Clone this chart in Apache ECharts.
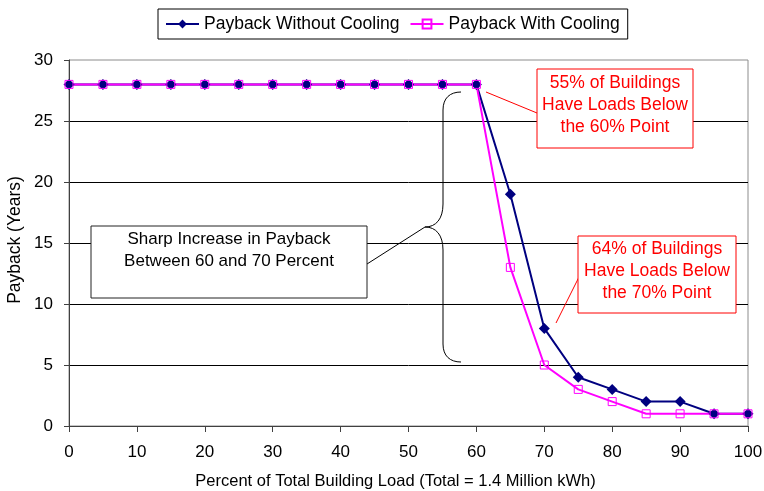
<!DOCTYPE html>
<html>
<head>
<meta charset="utf-8">
<script src="https://cdn.jsdelivr.net/npm/echarts@6/dist/echarts.min.js"></script>
<style>
  html, body { margin: 0; padding: 0; background: #fff; }
  #chart { width: 764px; height: 491px; }
</style>
</head>
<body>
<div id="chart"></div>
<script>
// percent of total building load
const loadPct = [0, 5, 10, 15, 20, 25, 30, 35, 40, 45, 50, 55, 60, 65, 70, 75, 80, 85, 90, 95, 100];
// payback in years
const paybackNoCooling = [28, 28, 28, 28, 28, 28, 28, 28, 28, 28, 28, 28, 28, 19, 8, 4, 3, 2, 2, 1, 1];
const paybackCooling = [28, 28, 28, 28, 28, 28, 28, 28, 28, 28, 28, 28, 28, 13, 5, 3, 2, 1, 1, 1, 1];

const seriesNames = ['Payback Without Cooling', 'Payback With Cooling'];
const noteTop = '55% of Buildings\nHave Loads Below\nthe 60% Point';
const noteMid = '64% of Buildings\nHave Loads Below\nthe 70% Point';
const noteLeft = 'Sharp Increase in Payback\nBetween 60 and 70 Percent';

const FONT = 'Liberation Sans, Arial, sans-serif';

const chart = echarts.init(document.getElementById('chart'));

const toPairs = (ys) => loadPct.map((x, i) => [x, ys[i]]);

// brace pieces (annotation drawing)
const braceStyle = { fill: null, stroke: '#000', lineWidth: 1 };
const curve = (x1, y1, cpx1, cpy1, cpx2, cpy2, x2, y2) => ({
  type: 'bezierCurve', z: 100,
  shape: { x1, y1, cpx1, cpy1, cpx2, cpy2, x2, y2 },
  style: braceStyle
});
const seg = (x1, y1, x2, y2, stroke) => ({
  type: 'line', z: 100,
  shape: { x1, y1, x2, y2 },
  style: { stroke: stroke || '#000', lineWidth: 1 }
});

const option = {
  backgroundColor: '#fff',
  animation: false,
  textStyle: { fontFamily: FONT },
  legend: {
    left: 158,
    top: 9,
    padding: [6, 8, 6, 7],
    borderColor: '#000',
    borderWidth: 1,
    itemWidth: 33,
    itemHeight: 11,
    itemGap: 10,
    textStyle: { color: '#000', fontSize: 17.5, fontFamily: FONT },
    data: seriesNames
  },
  grid: {
    left: 69,
    right: 16,
    top: 60,
    bottom: 65,
    outerBoundsMode: 'none',
    show: true,
    borderColor: '#8c8c8c',
    borderWidth: 1
  },
  xAxis: {
    type: 'value',
    min: 0,
    max: 100,
    interval: 10,
    name: 'Percent of Total Building Load (Total = 1.4 Million kWh)',
    nameLocation: 'middle',
    nameGap: 47,
    nameTextStyle: { color: '#000', fontSize: 16.5, padding: [0, 26, 0, 0] },
    axisLine: { lineStyle: { color: '#404040', width: 1 } },
    axisTick: { show: true, length: 6, lineStyle: { color: '#404040' } },
    axisLabel: { color: '#000', fontSize: 17, margin: 18 },
    splitLine: { show: false }
  },
  yAxis: {
    type: 'value',
    min: 0,
    max: 30,
    interval: 5,
    axisLine: { show: true, lineStyle: { color: '#404040', width: 1 } },
    axisTick: { show: true, length: 5, lineStyle: { color: '#404040' } },
    axisLabel: { color: '#000', fontSize: 17, margin: 16 },
    splitLine: { show: true, showMaxLine: false, lineStyle: { color: '#000', width: 1 } }
  },
  series: [
    {
      name: seriesNames[0],
      type: 'line',
      data: toPairs(paybackNoCooling),
      symbol: 'diamond',
      symbolSize: 11,
      lineStyle: { color: '#000080', width: 2 },
      itemStyle: { color: '#000080' }
    },
    {
      name: seriesNames[1],
      type: 'line',
      data: toPairs(paybackCooling),
      symbol: 'rect',
      symbolSize: 8,
      lineStyle: { color: '#ff00ff', width: 2 },
      itemStyle: { color: 'rgba(255,255,255,0)', borderColor: '#ff00ff', borderWidth: 1 }
    }
  ],
  graphic: [
    // y axis title
    {
      type: 'text',
      x: 15, y: 240,
      rotation: Math.PI / 2,
      z: 100,
      style: { text: 'Payback (Years)', fill: '#000', font: '17.5px ' + FONT, align: 'center', verticalAlign: 'middle' }
    },
    // callout: 60% point
    seg(486, 92, 537, 113, '#ff0000'),
    {
      type: 'rect', z: 100,
      shape: { x: 537, y: 69, width: 156, height: 79 },
      style: { fill: '#fff', stroke: '#ff0000', lineWidth: 1 }
    },
    {
      type: 'text', z: 101,
      x: 615, y: 105,
      style: { text: noteTop, fill: '#ff0000', font: '17.5px ' + FONT, align: 'center', verticalAlign: 'middle', lineHeight: 22 }
    },
    // callout: 70% point
    seg(579, 277, 556, 323, '#ff0000'),
    {
      type: 'rect', z: 100,
      shape: { x: 578, y: 236, width: 158, height: 77 },
      style: { fill: '#fff', stroke: '#ff0000', lineWidth: 1 }
    },
    {
      type: 'text', z: 101,
      x: 657, y: 271,
      style: { text: noteMid, fill: '#ff0000', font: '17.5px ' + FONT, align: 'center', verticalAlign: 'middle', lineHeight: 22 }
    },
    // brace + note on the left
    curve(461, 92, 450, 92, 443, 98, 443, 110),
    seg(443, 110, 443, 204),
    curve(443, 204, 443, 219, 436, 227, 425, 227),
    curve(425, 227, 436, 227, 443, 235, 443, 250),
    seg(443, 250, 443, 344),
    curve(443, 344, 443, 356, 450, 362, 461, 362),
    seg(367, 264, 425, 227),
    {
      type: 'rect', z: 100,
      shape: { x: 91, y: 226, width: 276, height: 72 },
      style: { fill: '#fff', stroke: '#222', lineWidth: 1 }
    },
    {
      type: 'text', z: 101,
      x: 229, y: 250,
      style: { text: noteLeft, fill: '#000', font: '17px ' + FONT, align: 'center', verticalAlign: 'middle', lineHeight: 22 }
    }
  ]
};

chart.setOption(option);
</script>
</body>
</html>
